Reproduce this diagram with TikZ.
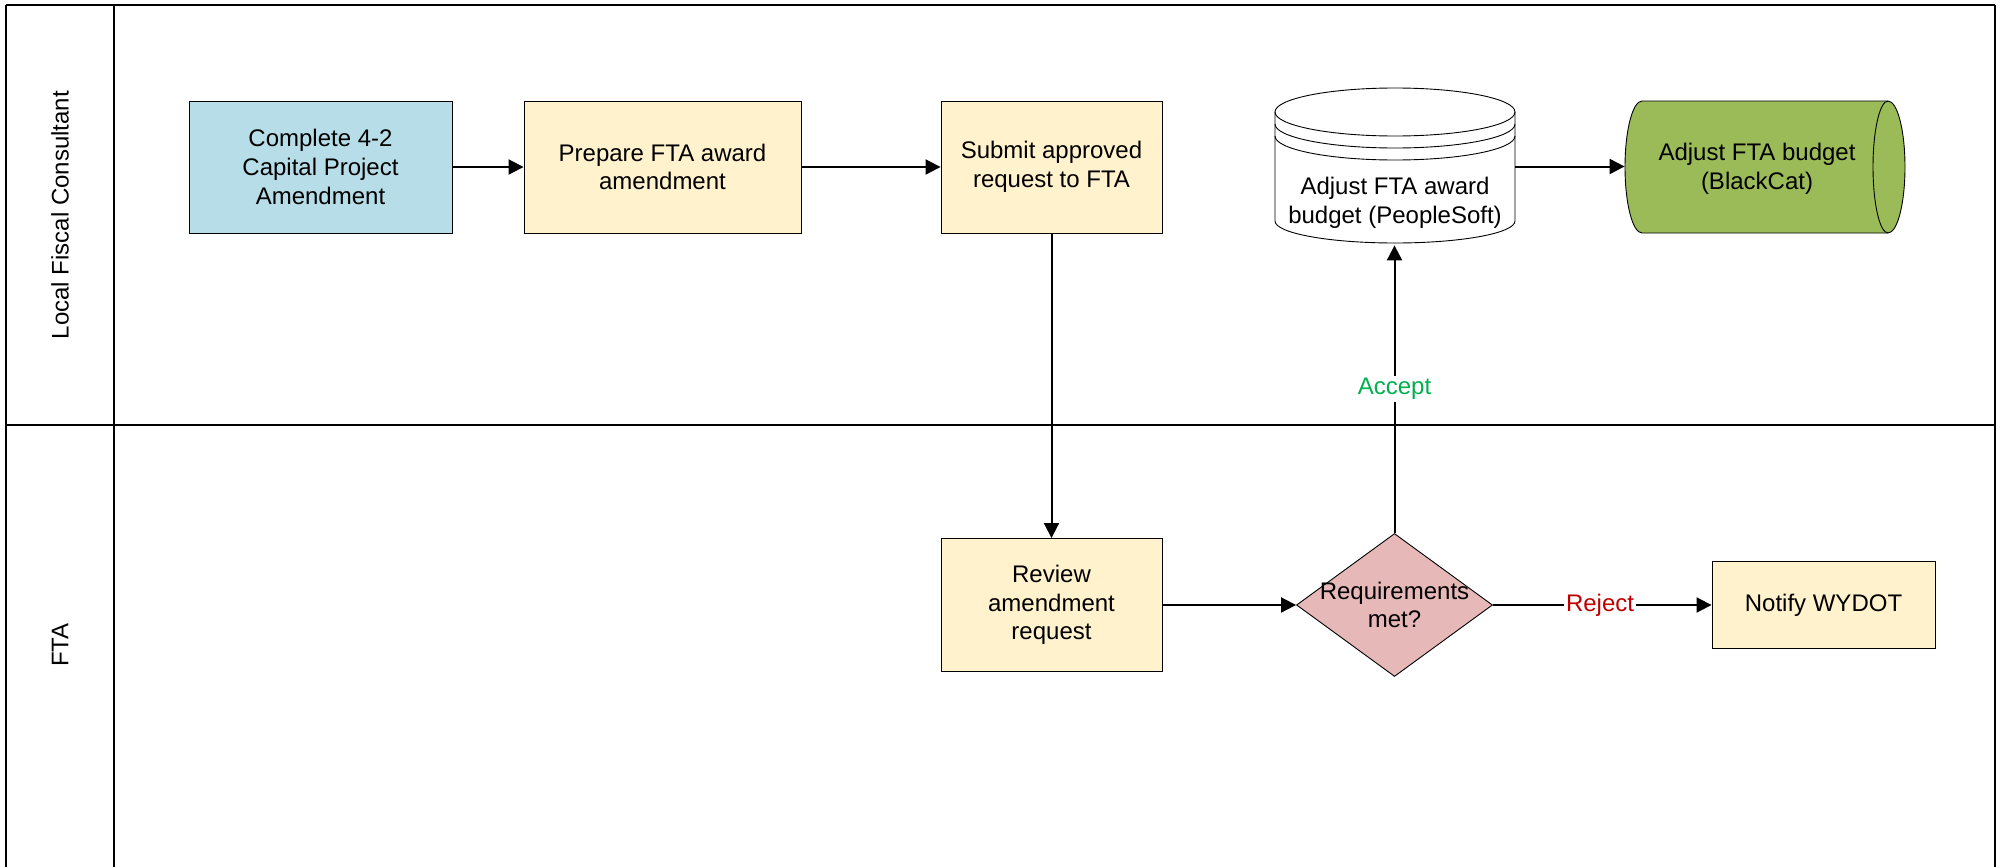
\documentclass[tikz,border=0pt]{standalone}
\usepackage{fontspec}
\setmainfont{Liberation Sans}
\usetikzlibrary{arrows.meta,shapes.geometric}
\definecolor{bluefill}{HTML}{B7DEE8}
\definecolor{yellowfill}{HTML}{FFF2CC}
\definecolor{redfill}{HTML}{E6B9B8}
\definecolor{greenfill}{HTML}{9BBB59}
\definecolor{acceptc}{HTML}{00B050}
\definecolor{rejectc}{HTML}{C00000}
\begin{document}
\begin{tikzpicture}[x=0.5pt,y=-0.5pt,
  font=\fontsize{12}{14.3}\selectfont,
  lane/.style={line width=1pt, draw=black},
  proc/.style={draw=black, line width=0.45pt, align=center, inner sep=0pt},
  txt/.style={align=center, inner sep=0pt},
  shapeline/.style={draw=black, line width=0.45pt},
  arr/.style={line width=1pt, -{Triangle[length=7.5pt,width=7.5pt]}},
  lbl/.style={fill=white, inner sep=1pt, font=\fontsize{12}{14.3}\selectfont},
  dec/.style={shape=diamond, draw=black, line width=0.45pt, fill=redfill, inner sep=0pt, aspect=1.37, minimum width=98pt, minimum height=71.5pt}
]
\useasboundingbox (0,0) rectangle (2004,867);
\fill[white] (0,0) rectangle (2004,867);

% swimlanes
\draw[lane] (6,5) -- (1995,5);
\draw[lane] (6,5) -- (6,900);
\draw[lane] (1995,5) -- (1995,900);
\draw[lane] (114,5) -- (114,900);
\draw[lane] (6,425) -- (1995,425);
\node[rotate=90, txt] (lanea) at (60,215) {Local Fiscal Consultant};
\node[rotate=90, txt] (laneb) at (60,645) {FTA};

% process boxes
\node[proc, fill=bluefill, minimum width=131.5pt, minimum height=66pt] (comp) at (320.5,167) {Complete 4-2\\Capital Project\\Amendment};
\node[proc, fill=yellowfill, minimum width=138.5pt, minimum height=66pt] (prep) at (662.5,167) {Prepare FTA award\\amendment};
\node[proc, fill=yellowfill, minimum width=110.5pt, minimum height=66pt] (subm) at (1051.5,167) {Submit approved\\request to FTA};
\node[proc, fill=yellowfill, minimum width=110.5pt, minimum height=66.5pt] (rev) at (1051.5,605) {Review\\amendment\\request};
\node[proc, fill=yellowfill, minimum width=111.5pt, minimum height=43.5pt] (notify) at (1823.5,605) {Notify WYDOT};

% database cylinder (PeopleSoft)
\node[inner sep=0pt, minimum width=120pt, minimum height=78.5pt] (cyl) at (1395,166.5) {};
\path[shapeline, fill=white] (1275,112) -- (1275,221)
  arc[start angle=180, end angle=360, x radius=60pt, y radius=11pt]
  -- (1515,112)
  arc[start angle=0, end angle=180, x radius=60pt, y radius=12pt] -- cycle;
\draw[shapeline] (1275,112) arc[start angle=180, end angle=360, x radius=60pt, y radius=12pt];
\draw[shapeline] (1275,124) arc[start angle=180, end angle=360, x radius=60pt, y radius=12pt];
\draw[shapeline] (1275,136) arc[start angle=180, end angle=360, x radius=60pt, y radius=12pt];
\node[txt] (cyltext) at (1395,203) {Adjust FTA award\\budget (PeopleSoft)};

% horizontal cylinder (BlackCat)
\node[inner sep=0pt, minimum width=140pt, minimum height=66pt] (bc) at (1765,167) {};
\path[shapeline, fill=greenfill] (1642,101) -- (1888,101)
  arc[start angle=90, end angle=-90, x radius=8.5pt, y radius=33pt]
  -- (1642,233)
  arc[start angle=270, end angle=90, x radius=8.5pt, y radius=33pt] -- cycle;
\draw[shapeline] (1888,101) arc[start angle=90, end angle=270, x radius=7.5pt, y radius=33pt];
\node[txt] (bctext) at (1757,169) {Adjust FTA budget\\(BlackCat)};

% decision
\node[dec] (decn) at (1394.5,605) {};
\node[txt] (dectext) at (1394.5,605) {Requirements\\met?};

% connectors
\draw[arr] (comp.east) -- (prep.west);
\draw[arr] (prep.east) -- (subm.west);
\draw[arr] (subm.south) -- (rev.north);
\draw[arr] (rev.east) -- (rev.east -| decn.west);
\draw[arr] (cyl.east) -- (cyl.east -| bc.west);
\draw[arr] (decn.north) -- node[lbl, text=acceptc, pos=0.5] (acc) {Accept} (decn.north |- cyl.south);
\draw[arr] (decn.east) -- node[lbl, text=rejectc, pos=0.49] (rej) {Reject} (decn.east -| notify.west);
\end{tikzpicture}
\end{document}
